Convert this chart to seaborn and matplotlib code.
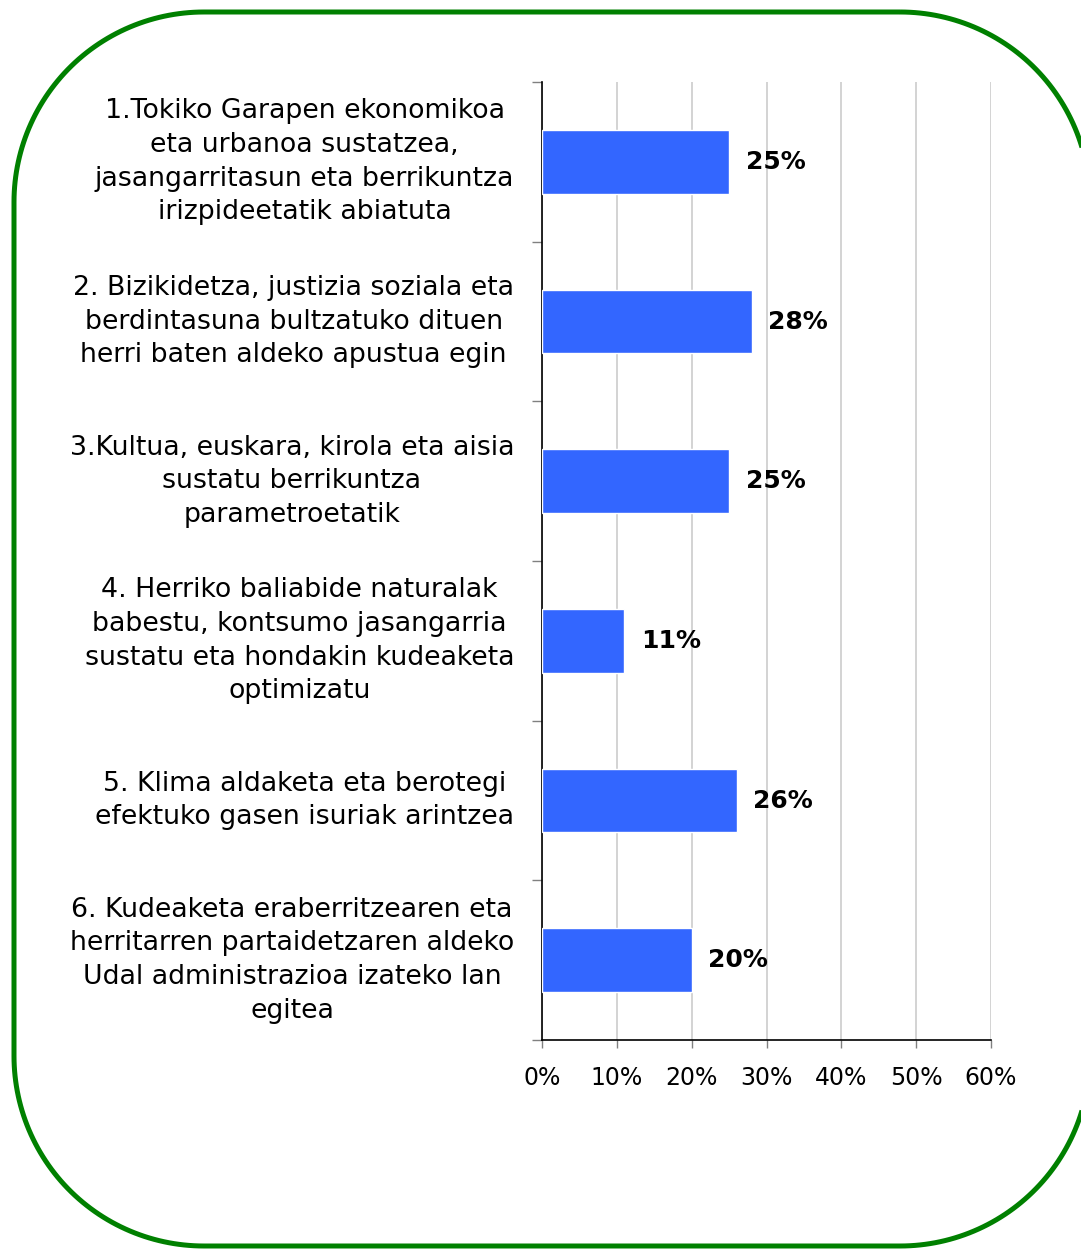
import numpy as np
import matplotlib.pyplot as plt
import seaborn as sns
from matplotlib.patches import Polygon
from matplotlib.ticker import FixedLocator, PercentFormatter

# --- datos ---
categorias = [
    "1.Tokiko Garapen ekonomikoa\neta urbanoa sustatzea,\njasangarritasun eta berrikuntza\nirizpideetatik abiatuta",
    "2. Bizikidetza, justizia soziala eta\nberdintasuna bultzatuko dituen\nherri baten aldeko apustua egin",
    "3.Kultua, euskara, kirola eta aisia\nsustatu berrikuntza\nparametroetatik",
    "4. Herriko baliabide naturalak\nbabestu, kontsumo jasangarria\nsustatu eta hondakin kudeaketa\noptimizatu",
    "5. Klima aldaketa eta berotegi\nefektuko gasen isuriak arintzea",
    "6. Kudeaketa eraberritzearen eta\nherritarren partaidetzaren aldeko\nUdal administrazioa izateko lan\negitea",
]
porcentajes = [25, 28, 25, 11, 26, 20]
x_ticks = [0, 10, 20, 30, 40, 50, 60]

AZUL = "#3366FF"
VERDE = "#008000"


def marco_redondeado(x0, y0, x1, y1, r, n=60):
    # contorno de rectangulo redondeado como poligono (evita el recorte raro de curvas)
    esquinas = [
        (x1 - r, y0 + r, -90, 0),
        (x1 - r, y1 - r, 0, 90),
        (x0 + r, y1 - r, 90, 180),
        (x0 + r, y0 + r, 180, 270),
    ]
    pts = []
    for cx, cy, a0, a1 in esquinas:
        t = np.radians(np.linspace(a0, a1, n))
        pts.extend(zip(cx + r * np.cos(t), cy + r * np.sin(t)))
    return pts


sns.set_style("white")
plt.rcParams["font.family"] = ["DejaVu Sans"]
plt.rcParams["text.color"] = "black"

fig = plt.figure(figsize=(10.81, 12.5), dpi=100)

# marco verde (ejes de fondo en pixeles, y hacia abajo)
fondo = fig.add_axes([0, 0, 1, 1], zorder=-1)
fondo.set_xlim(0, 1081)
fondo.set_ylim(1250, 0)
fondo.axis("off")
fondo.add_patch(Polygon(marco_redondeado(14, 12, 1090, 1246, 190), closed=True,
                        fill=False, edgecolor=VERDE, linewidth=3.6, joinstyle="round"))

ax = fig.add_axes([0.5014, 0.168, 0.4154, 0.7664])
ax.patch.set_alpha(0)

sns.barplot(x=porcentajes, y=categorias, orient="h", color=AZUL,
            saturation=1, width=0.4, ax=ax, zorder=3)

# etiquetas de valor
for i, v in enumerate(porcentajes):
    ax.text(v + 2.2, i, f"{v}%", va="center", ha="left",
            fontsize=18, fontweight="bold", color="black")

ax.set_xlim(0, 60)
ax.set_ylim(5.5, -0.5)
ax.set_xticks(x_ticks)
ax.xaxis.set_major_formatter(PercentFormatter(decimals=0))
ax.grid(axis="x", color="#CCCCCC", linewidth=1.2, zorder=0)
ax.set_xlabel("")
ax.set_ylabel("")

for s in ["top", "right"]:
    ax.spines[s].set_visible(False)
ax.spines["left"].set_color("black")
ax.spines["bottom"].set_color("black")
ax.spines["left"].set_linewidth(1.2)
ax.spines["bottom"].set_linewidth(1.2)

ax.tick_params(axis="x", bottom=True, length=6, width=1, color="#808080",
               labelsize=17, pad=13, labelcolor="black")
ax.tick_params(axis="y", which="major", left=False, length=0, pad=20,
               labelsize=19.3, labelcolor="black")
ax.yaxis.set_minor_locator(FixedLocator([i - 0.5 for i in range(len(categorias) + 1)]))
ax.tick_params(axis="y", which="minor", left=True, length=7, width=1, color="#808080")
for lab in ax.get_yticklabels():
    lab.set_multialignment("center")
    lab.set_linespacing(1.38)
    lab.set_verticalalignment("center")

fig.savefig("out.png", dpi=100)
plt.close(fig)
